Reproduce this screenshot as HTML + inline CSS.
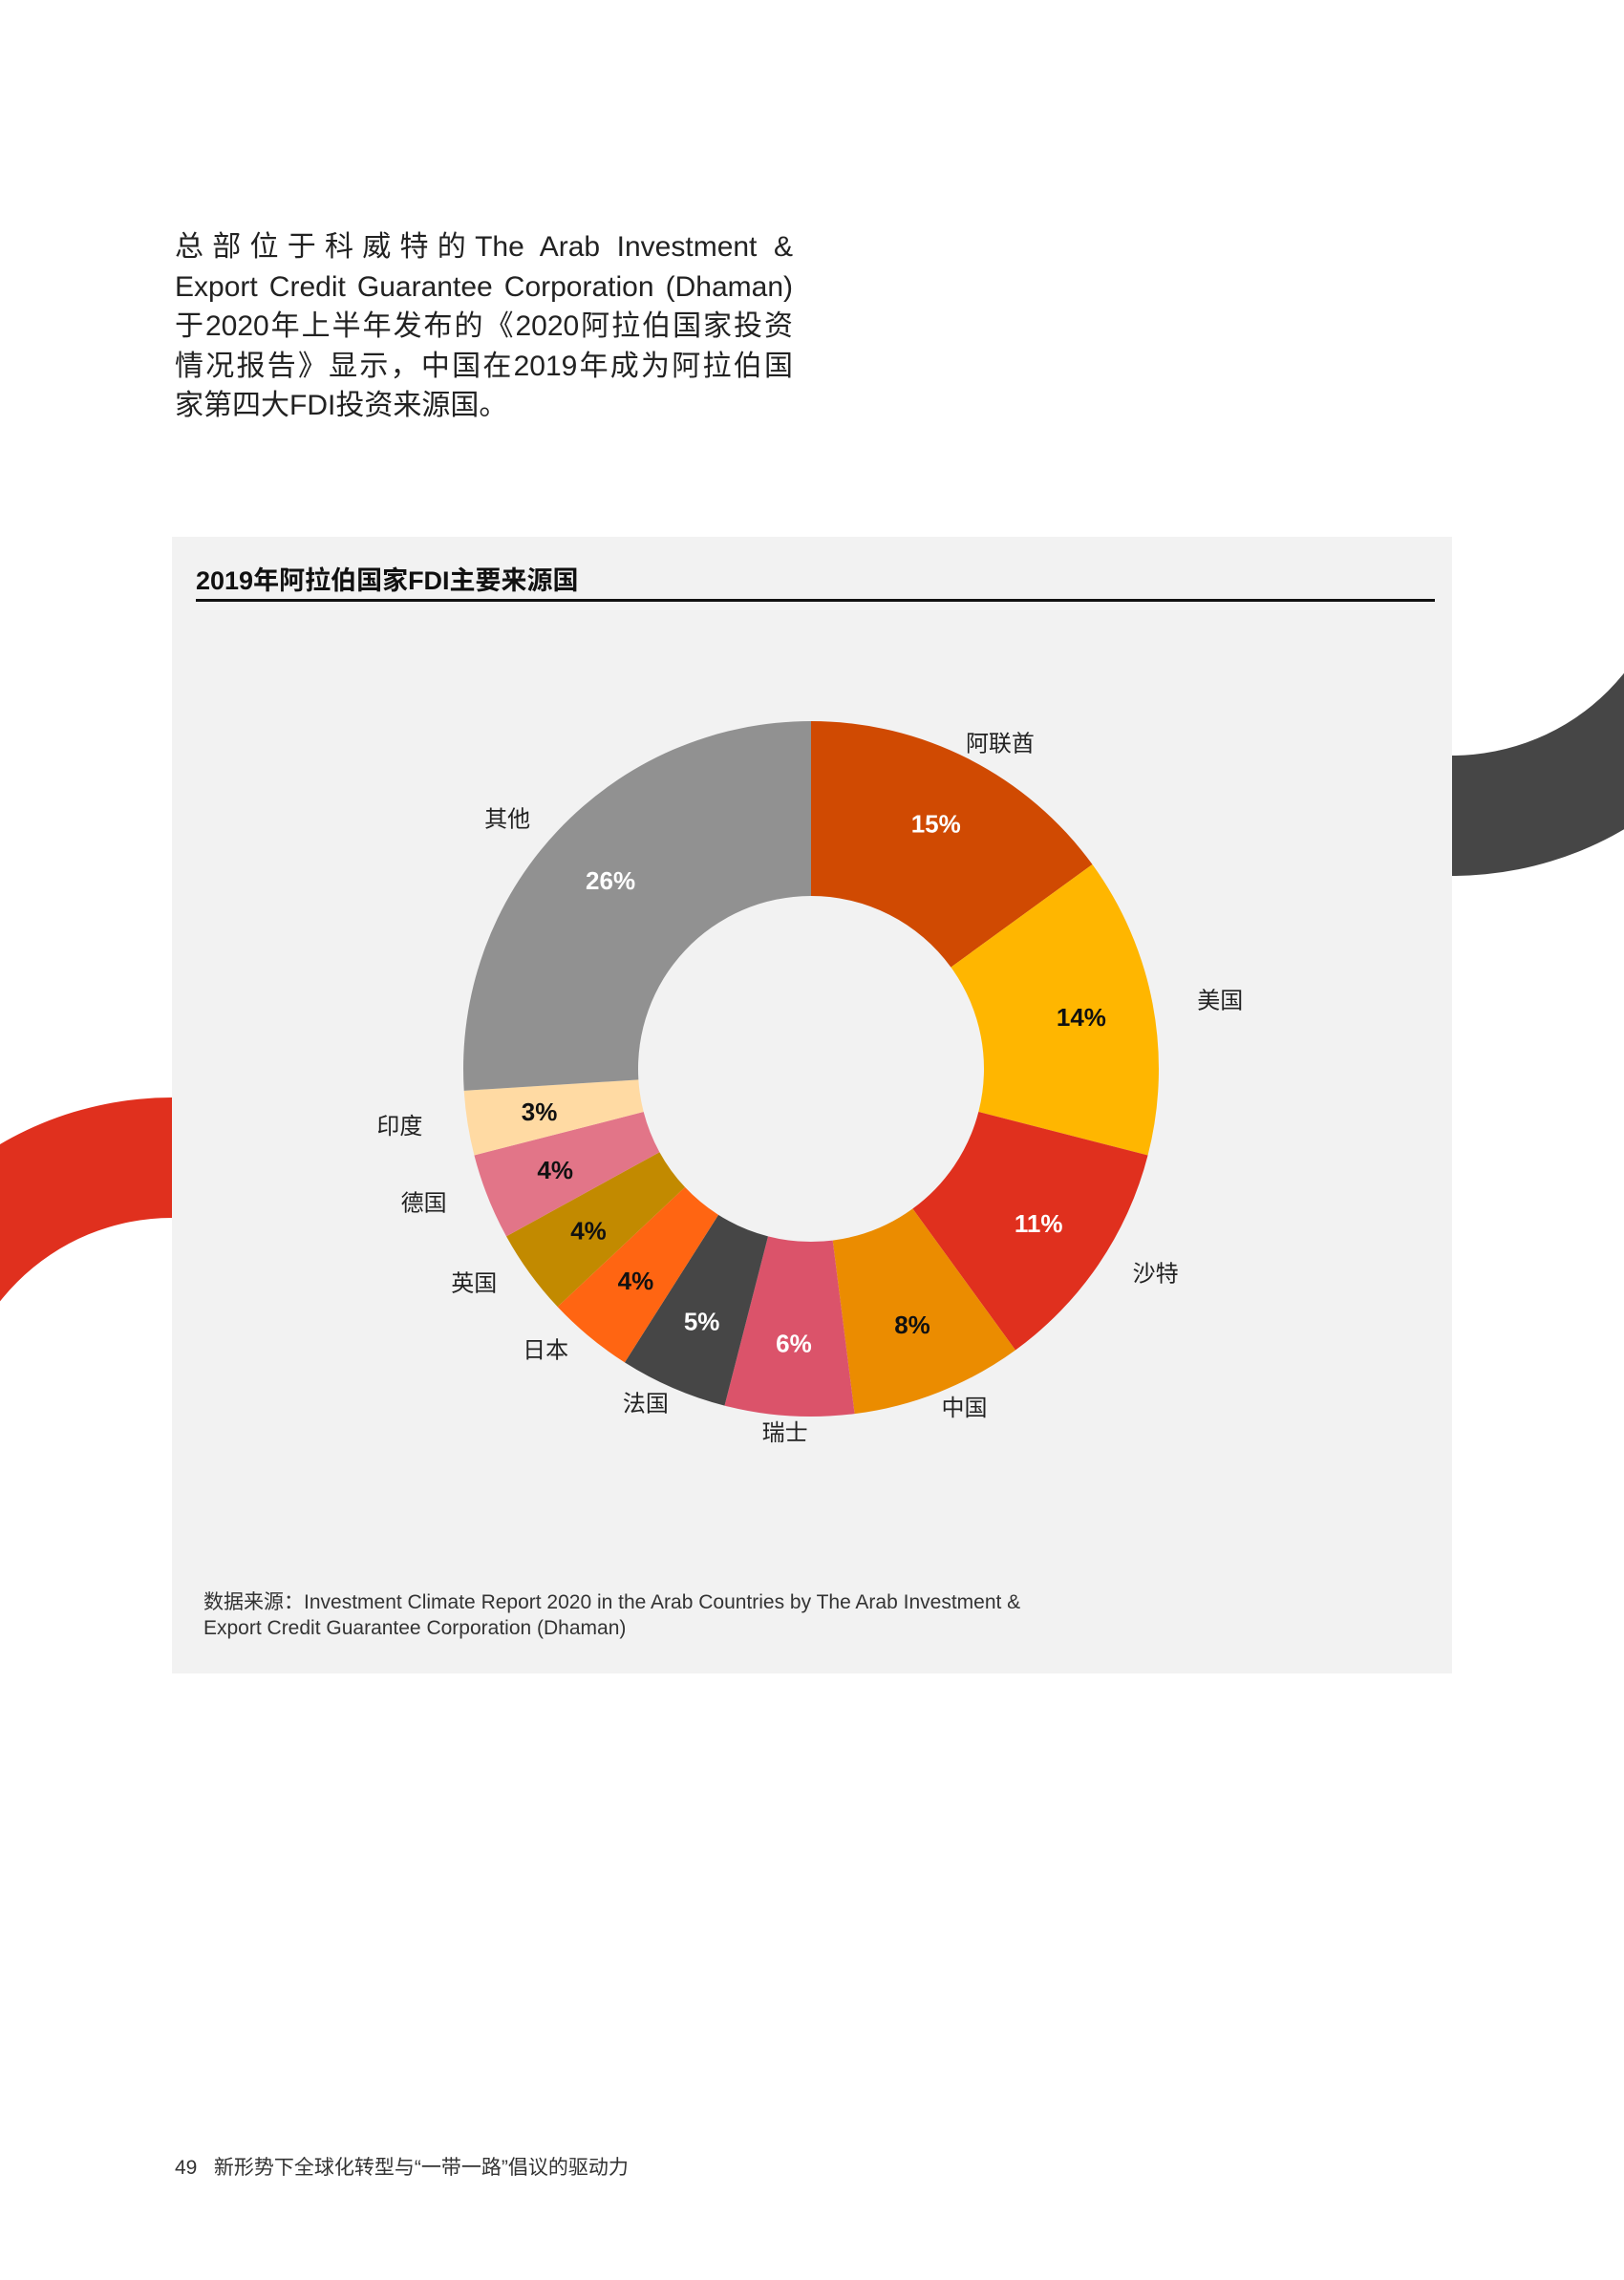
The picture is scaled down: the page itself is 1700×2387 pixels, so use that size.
<!DOCTYPE html>
<html><head><meta charset="utf-8">
<style>
body{margin:0;width:1700px;height:2387px;background:#fff;position:relative;overflow:hidden;font-family:"Liberation Sans","Noto Sans CJK SC",sans-serif;}
.para{position:absolute;left:183px;top:238px;width:647px;font-size:30px;line-height:41.5px;color:#222;text-align:justify;text-align-last:justify;}
.para div{text-align-last:justify;}
.panel{position:absolute;left:180px;top:562px;width:1340px;height:1190px;background:#f2f2f2;}
.title{position:absolute;left:25px;top:24px;font-size:27px;font-weight:bold;color:#111;}
.rule{position:absolute;left:25px;top:65px;width:1297px;height:3px;background:#111;}
.src{position:absolute;left:33px;top:1102px;font-size:21px;line-height:27px;color:#333;}
.foot{position:absolute;left:183px;top:2253px;font-size:21px;color:#333;}
</style></head><body>
<svg style="position:absolute;left:0;top:0" width="1700" height="2387">
<path d="M1520 917 A357 357 0 0 0 1877 560 L1751 560 A231 231 0 0 1 1520 791 Z" fill="#464646"/>
<path d="M180 1149 A355 355 0 0 0 -175 1504 L-49 1504 A229 229 0 0 1 180 1275 Z" fill="#e0301e"/>
</svg>
<div class="para">
<div>总部位于科威特的The Arab Investment &amp;</div>
<div>Export Credit Guarantee Corporation (Dhaman)</div>
<div>于2020年上半年发布的《2020阿拉伯国家投资</div>
<div>情况报告》显示，中国在2019年成为阿拉伯国</div>
<div style="text-align-last:left">家第四大FDI投资来源国。</div>
</div>
<div class="panel">
<div class="title">2019年阿拉伯国家FDI主要来源国</div>
<div class="rule"></div>
<svg id="donut" style="position:absolute;left:0;top:0" width="1340" height="1190"></svg>
<div class="src">数据来源：Investment Climate Report 2020 in the Arab Countries by The Arab Investment &amp;<br>Export Credit Guarantee Corporation (Dhaman)</div>
</div>
<div class="foot">49&nbsp;&nbsp;&nbsp;新形势下全球化转型与“一带一路”倡议的驱动力</div>
<script>
const categories=["阿联酋","美国","沙特","中国","瑞士","法国","日本","英国","德国","印度","其他"];
const values=[15,14,11,8,6,5,4,4,4,3,26];
const colors=["#d04a02","#ffb600","#e0301e","#eb8c00","#db536a","#464646","#ff6512","#c28a00","#e27588","#ffdaa3","#919191"];
const pctTextColors=["#fff","#111","#fff","#111","#fff","#fff","#111","#111","#111","#111","#fff"];
const svg=document.getElementById('donut');
const NS='http://www.w3.org/2000/svg';
const cx=669,cy=557,R=364,r=181,LR=288,ORX=436,ORY=382;
const total=values.reduce((a,b)=>a+b,0);
function pt(a,rad){return [cx+rad*Math.sin(a),cy-rad*Math.cos(a)];}
let acc=0;
values.forEach((v,i)=>{
  const a0=acc/total*2*Math.PI;acc+=v;const a1=acc/total*2*Math.PI;
  const large=(a1-a0)>Math.PI?1:0;
  const [x0,y0]=pt(a0,R),[x1,y1]=pt(a1,R),[x2,y2]=pt(a1,r),[x3,y3]=pt(a0,r);
  const p=document.createElementNS(NS,'path');
  p.setAttribute('d',`M${x0} ${y0} A${R} ${R} 0 ${large} 1 ${x1} ${y1} L${x2} ${y2} A${r} ${r} 0 ${large} 0 ${x3} ${y3} Z`);
  p.setAttribute('fill',colors[i]);
  
  
  svg.appendChild(p);
  const am=(a0+a1)/2;
  const [lx,ly]=pt(am,LR);
  const t=document.createElementNS(NS,'text');
  t.setAttribute('x',lx);t.setAttribute('y',ly+9);
  t.setAttribute('text-anchor','middle');t.setAttribute('font-size','26');t.setAttribute('font-weight','bold');
  t.setAttribute('fill',pctTextColors[i]);
  t.textContent=values[i]+'%';
  
  
  svg.appendChild(t);
  const ox=cx+ORX*Math.sin(am),oy=cy-ORY*Math.cos(am);
  const c=document.createElementNS(NS,'text');
  c.setAttribute('x',ox);c.setAttribute('y',oy+8);
  c.setAttribute('text-anchor','middle');c.setAttribute('font-size','24');
  c.setAttribute('fill','#222');
  c.textContent=categories[i];
  
  
  svg.appendChild(c);
});
</script>
</body></html>
